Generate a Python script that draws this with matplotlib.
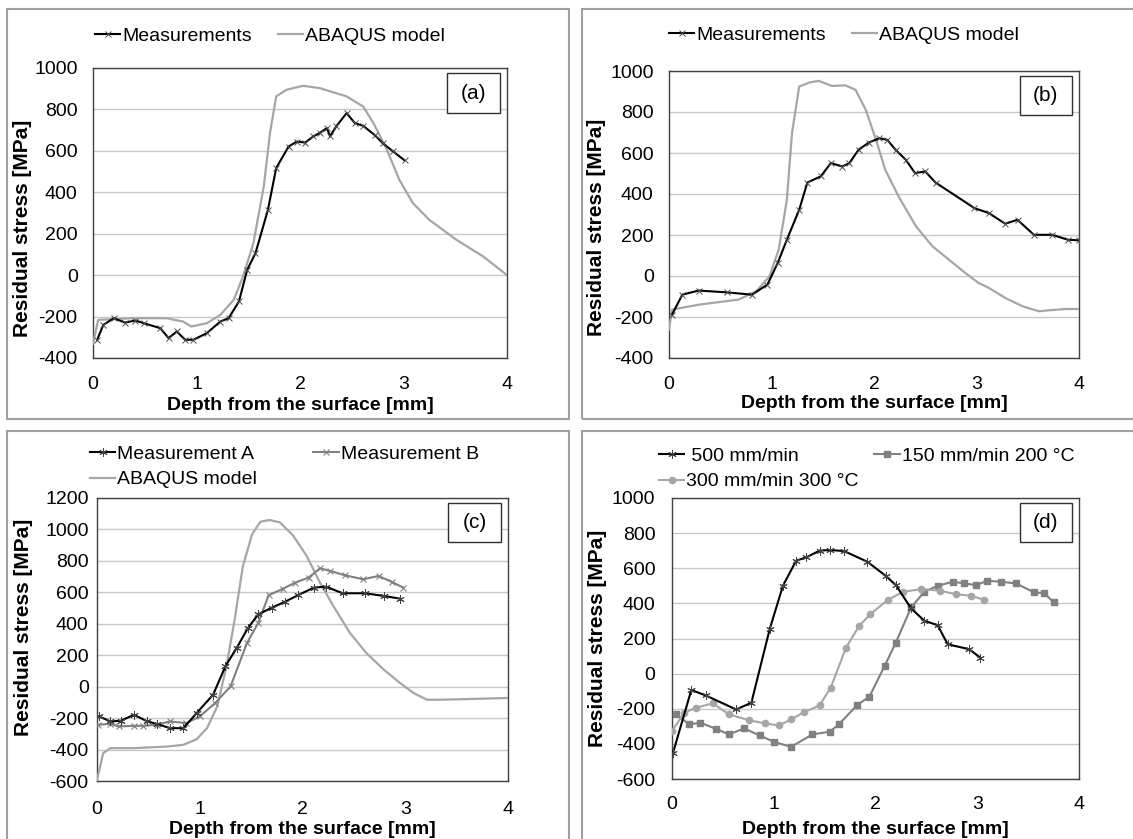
import matplotlib
matplotlib.use("Agg")
import matplotlib.pyplot as plt
from matplotlib.patches import Rectangle

plt.rcParams['font.family'] = ['Liberation Sans', 'DejaVu Sans']
plt.rcParams['axes.unicode_minus'] = False

# ---------------- data ----------------
# (a)
a_meas_x = [0.04, 0.10, 0.20, 0.31, 0.41, 0.49, 0.65, 0.73, 0.81, 0.89, 0.97, 1.10, 1.23, 1.31,
            1.41, 1.49, 1.57, 1.69, 1.77, 1.89, 1.97, 2.05, 2.13, 2.19, 2.26, 2.29, 2.35, 2.45,
            2.53, 2.61, 2.72, 2.80, 2.90, 3.01]
a_meas_y = [-312, -240, -208, -229, -219, -232, -256, -304, -272, -312, -312, -280, -224, -208,
            -127, 26, 106, 315, 517, 621, 645, 640, 670, 686, 710, 670, 718, 782,
            734, 721, 677, 637, 597, 554]
a_model_x = [0.0, 0.05, 0.38, 0.71, 0.87, 0.95, 1.10, 1.23, 1.36, 1.45, 1.55, 1.65, 1.71, 1.77,
             1.87, 2.03, 2.19, 2.45, 2.61, 2.71, 2.84, 2.96, 3.09, 3.25, 3.51, 3.77, 4.0]
a_model_y = [-330, -216, -208, -208, -224, -248, -232, -192, -119, -6, 155, 428, 686, 863,
             895, 914, 903, 863, 814, 734, 605, 460, 348, 267, 171, 90, 0]

# (b)
b_meas_x = [0.03, 0.13, 0.29, 0.57, 0.81, 0.96, 1.06, 1.15, 1.27, 1.35, 1.48, 1.58, 1.69, 1.76,
            1.85, 1.95, 2.05, 2.13, 2.21, 2.31, 2.40, 2.50, 2.60, 2.98, 3.12, 3.28, 3.40, 3.56,
            3.74, 3.89, 4.0]
b_meas_y = [-188, -91, -71, -80, -91, -42, 63, 177, 323, 456, 486, 551, 534, 551,
            616, 651, 672, 664, 616, 567, 502, 510, 456, 331, 307, 255, 274, 201,
            201, 177, 174]
b_model_x = [0.0, 0.03, 0.29, 0.68, 0.85, 0.98, 1.07, 1.15, 1.20, 1.27, 1.37, 1.46, 1.59, 1.72,
             1.82, 1.92, 2.02, 2.11, 2.24, 2.41, 2.57, 2.73, 2.89, 3.02, 3.12, 3.28, 3.45, 3.61,
             3.71, 3.87, 4.0]
b_model_y = [-261, -164, -140, -115, -75, -2, 128, 372, 697, 924, 944, 952, 927, 930,
             908, 810, 664, 518, 388, 242, 145, 80, 15, -34, -58, -107, -148, -172,
             -167, -161, -161]

# (c)
c_measA_x = [0.02, 0.13, 0.23, 0.36, 0.49, 0.58, 0.71, 0.84, 0.97, 1.13, 1.25, 1.36, 1.47, 1.57,
             1.70, 1.83, 1.96, 2.11, 2.23, 2.39, 2.61, 2.79, 2.95]
c_measA_y = [-189, -221, -217, -179, -221, -236, -264, -264, -168, -51, 130, 247, 374, 460,
             502, 540, 583, 630, 636, 594, 594, 577, 560]
c_measB_x = [0.01, 0.13, 0.21, 0.36, 0.45, 0.58, 0.71, 0.87, 1.00, 1.15, 1.30, 1.46, 1.57, 1.67,
             1.81, 1.93, 2.06, 2.17, 2.27, 2.41, 2.59, 2.74, 2.87, 2.98]
c_measB_y = [-243, -236, -253, -249, -249, -243, -221, -232, -189, -104, 2, 279, 406, 581,
             623, 662, 694, 753, 736, 709, 683, 704, 666, 630]
c_model_x = [0.0, 0.06, 0.13, 0.36, 0.68, 0.84, 0.97, 1.07, 1.17, 1.26, 1.34, 1.42, 1.51, 1.59,
             1.68, 1.78, 1.91, 2.04, 2.17, 2.30, 2.46, 2.62, 2.79, 2.95, 3.08, 3.21, 3.34, 3.60, 4.0]
c_model_y = [-594, -423, -391, -391, -381, -370, -334, -264, -126, 130, 428, 768, 970, 1049,
             1060, 1045, 960, 832, 662, 513, 343, 215, 109, 23, -40, -83, -83, -79, -72]

# (d)
d_500_x = [0.01, 0.19, 0.33, 0.63, 0.78, 0.96, 1.09, 1.22, 1.32, 1.45, 1.55, 1.69, 1.92, 2.10,
           2.20, 2.35, 2.48, 2.61, 2.71, 2.92, 3.03]
d_500_y = [-451, -93, -124, -204, -166, 253, 500, 643, 662, 700, 704, 698, 637, 557,
           504, 371, 301, 276, 167, 139, 91]
d_150_x = [0.04, 0.17, 0.28, 0.43, 0.56, 0.71, 0.86, 1.00, 1.17, 1.38, 1.55, 1.64, 1.82, 1.94,
           2.09, 2.20, 2.35, 2.48, 2.61, 2.76, 2.87, 2.99, 3.10, 3.23, 3.38, 3.56, 3.66, 3.75]
d_150_y = [-232, -289, -280, -314, -346, -312, -352, -388, -417, -346, -331, -289, -179, -131,
           44, 177, 377, 466, 500, 523, 514, 504, 529, 523, 514, 462, 459, 405]
d_300_x = [0.00, 0.12, 0.24, 0.40, 0.56, 0.76, 0.91, 1.05, 1.17, 1.30, 1.45, 1.56, 1.71, 1.84,
           1.95, 2.12, 2.27, 2.45, 2.63, 2.79, 2.94, 3.07]
d_300_y = [-327, -223, -194, -169, -232, -266, -283, -295, -261, -219, -181, -80, 148, 272,
           339, 419, 466, 481, 472, 453, 443, 420]

panel_labels = ['(a)', '(b)', '(c)', '(d)']
xlabel = 'Depth from the surface [mm]'
ylabel = 'Residual stress [MPa]'

# ---------------- figure ----------------
W, H = 1133, 839
fig = plt.figure(figsize=(W / 100, H / 100), dpi=100)

BLACK = '#000000'
MODEL = '#a6a6a6'
GRAY = '#808080'
LIGHT = '#a6a6a6'


def px_axes(l, t, r, b):
    return [l / W, 1 - b / H, (r - l) / W, (b - t) / H]


# panel frames
for (l, t, r, b) in [(7, 9, 569, 419), (582, 9, 1140, 419), (7, 431, 569, 845), (582, 431, 1140, 845)]:
    fig.patches.append(Rectangle((l / W, 1 - b / H), (r - l) / W, (b - t) / H,
                                 transform=fig.transFigure, fill=False,
                                 edgecolor='#a0a0a0', linewidth=1.5))

axes_px = [(93, 68, 507, 358), (669, 71, 1079, 358), (97, 498, 508, 781), (672, 498, 1079, 779)]
ylims = [(-400, 1000), (-400, 1000), (-600, 1200), (-600, 1000)]
ytick_pads = [11, 11, 6, 12]
xtick_pads = [13, 13, 14.5, 12.5]
xlab_y = [-0.163, -0.16, -0.17, -0.178]
ylab_x = [-0.17, -0.176, -0.18, -0.184]
ylab_y = [0.448, 0.456, 0.544, 0.50]

axs = []
for i, box in enumerate(axes_px):
    ax = fig.add_axes(px_axes(*box))
    axs.append(ax)
    ax.set_xlim(0, 4)
    ax.set_ylim(*ylims[i])
    ax.set_xticks([0, 1, 2, 3, 4])
    ax.set_yticks(list(range(ylims[i][0], ylims[i][1] + 1, 200)))
    ax.grid(axis='y', color='#c8c8c8', linewidth=1.0)
    ax.set_axisbelow(True)
    for s in ax.spines.values():
        s.set_color('#404040')
        s.set_linewidth(1.0)
    ax.tick_params(axis='both', length=0, labelsize=14)
    ax.tick_params(axis='y', pad=ytick_pads[i])
    ax.tick_params(axis='x', pad=xtick_pads[i])
    ax.set_xlabel(xlabel, fontsize=14, fontweight='bold')
    ax.xaxis.label.set_va('center')
    ax.xaxis.set_label_coords(0.5, xlab_y[i])
    ax.set_ylabel(ylabel, fontsize=15, fontweight='bold')
    ax.yaxis.label.set_va('center')
    ax.yaxis.set_label_coords(ylab_x[i], ylab_y[i])
    ax.add_patch(Rectangle((0.855, 0.845), 0.127, 0.137, transform=ax.transAxes,
                           fill=True, facecolor='white', edgecolor='#303030',
                           linewidth=1.0, zorder=5))
    ax.text(0.9185, 0.9135, panel_labels[i], transform=ax.transAxes, ha='center',
            va='center', fontsize=15, zorder=6)

lw_meas = 1.5
lw_model = 1.6
leg_kw = dict(loc='center left', ncol=2, frameon=False, fontsize=14,
              handlelength=1.3, handletextpad=0.1, borderaxespad=0, borderpad=0,
              labelspacing=0.4)

# (a)
ax = axs[0]
ax.plot(a_model_x, a_model_y, color=MODEL, lw=lw_model, label='ABAQUS model', zorder=3)
ax.plot(a_meas_x, a_meas_y, color=BLACK, lw=lw_meas, marker='x', ms=5, mew=0.7,
        mec='#505050', label='Measurements', zorder=4)
h, l = ax.get_legend_handles_labels()
fig.legend([h[1], h[0]], [l[1], l[0]], bbox_to_anchor=(95 / W, 1 - 36 / H),
           columnspacing=1.35, **leg_kw)

# (b)
ax = axs[1]
ax.plot(b_model_x, b_model_y, color=MODEL, lw=lw_model, label='ABAQUS model', zorder=3)
ax.plot(b_meas_x, b_meas_y, color=BLACK, lw=lw_meas, marker='x', ms=5, mew=0.7,
        mec='#505050', label='Measurements', zorder=4)
h, l = ax.get_legend_handles_labels()
fig.legend([h[1], h[0]], [l[1], l[0]], bbox_to_anchor=(669 / W, 1 - 35 / H),
           columnspacing=1.35, **leg_kw)

# (c)
ax = axs[2]
ax.plot(c_model_x, c_model_y, color=MODEL, lw=lw_model, label='ABAQUS model', zorder=3)
ax.plot(c_measB_x, c_measB_y, color=GRAY, lw=lw_meas, marker='x', ms=5, mew=0.8,
        label='Measurement B', zorder=4)
ax.plot(c_measA_x, c_measA_y, color=BLACK, lw=lw_meas, marker=(6, 2, 0), ms=6, mew=0.7,
        mec='#404040', label='Measurement A', zorder=5)
h, l = ax.get_legend_handles_labels()
fig.legend([h[2], h[0], h[1]], [l[2], l[0], l[1]], bbox_to_anchor=(90 / W, 1 - 467 / H),
           columnspacing=2.9, **leg_kw)

# (d)
ax = axs[3]
ax.plot(d_150_x, d_150_y, color=GRAY, lw=lw_meas, marker='s', ms=4.5,
        label='150 mm/min 200 °C', zorder=3)
ax.plot(d_300_x, d_300_y, color=LIGHT, lw=lw_meas, marker='o', ms=4.5,
        label='300 mm/min 300 °C', zorder=4)
ax.plot(d_500_x, d_500_y, color=BLACK, lw=lw_meas, marker=(6, 2, 0), ms=6, mew=0.7,
        mec='#404040', label='500 mm/min', zorder=5)
h, l = ax.get_legend_handles_labels()
fig.legend([h[2], h[1], h[0]], [' ' + l[2], l[1], l[0]], bbox_to_anchor=(659 / W, 1 - 469 / H),
           columnspacing=0.8, **leg_kw)

fig.savefig('out.png', dpi=100)
